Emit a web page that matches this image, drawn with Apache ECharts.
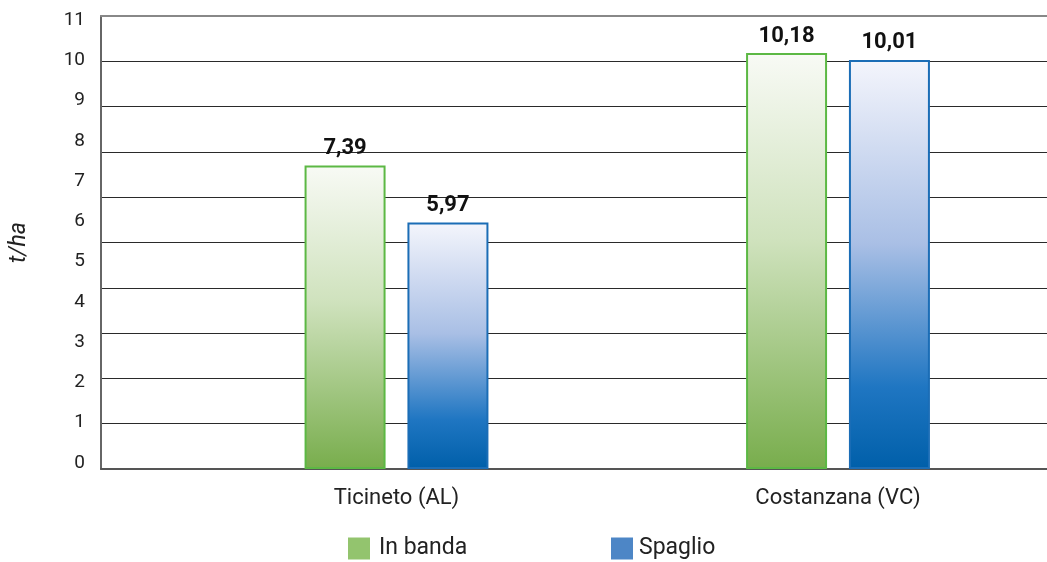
<!DOCTYPE html>
<html>
<head>
<meta charset="utf-8">
<style>html,body{margin:0;padding:0;background:#fff}#c{width:1047px;height:562px}</style>
<script src="https://cdn.jsdelivr.net/npm/echarts@6/dist/echarts.min.js"></script>
</head>
<body>
<div id="c"></div>
<script>
const categories = ['Ticineto (AL)', 'Costanzana (VC)'];
const seriesNames = ['In banda', 'Spaglio'];
const inBanda = [7.39, 10.18];
const spaglio = [5.97, 10.01];
const yTicks = [0, 1, 2, 3, 4, 5, 6, 7, 8, 9, 10, 11];
const yTitle = 't/ha';

const FONT = 'Roboto, "Noto Sans", sans-serif';
const chart = echarts.init(document.getElementById('c'), null, {renderer: 'canvas'});

function grad(stops) {
  return new echarts.graphic.LinearGradient(0, 0, 0, 1, stops.map(s => ({offset: s[0], color: s[1]})));
}
const fmt = p => p.value.toFixed(2).replace('.', ',');
const labelStyle = {show: true, position: 'top', distance: 6, fontFamily: FONT, fontWeight: 'bold', fontSize: 22, color: '#111', formatter: fmt};

chart.setOption({
  animation: false,
  grid: [
    {left: 97, top: 16, right: 0, height: 453},
    {left: 396.5, top: 16, width: 441.5, height: 453}
  ],
  xAxis: [
    {gridIndex: 0, type: 'category', data: categories, position: 'bottom',
     axisLine: {show: true, lineStyle: {color: '#555', width: 2}}, axisTick: {show: false}, axisLabel: {show: false}},
    {gridIndex: 0, type: 'category', data: categories, position: 'top',
     axisLine: {show: true, lineStyle: {color: '#888', width: 2}}, axisTick: {show: false}, axisLabel: {show: false}},
    {gridIndex: 1, type: 'category', data: categories, boundaryGap: false,
     axisLine: {show: false}, axisTick: {show: false},
     axisLabel: {margin: 18, fontFamily: FONT, fontSize: 22, color: '#222'}}
  ],
  yAxis: [
    {gridIndex: 0, type: 'value', min: 0, max: 10, interval: 1,
     name: yTitle, nameLocation: 'middle', nameGap: 70, nameRotate: 90,
     nameTextStyle: {fontFamily: FONT, fontStyle: 'italic', fontSize: 23, color: '#222'},
     axisLine: {show: true, lineStyle: {color: '#666', width: 2}}, axisTick: {show: false}, axisLabel: {show: false},
     splitLine: {show: true, lineStyle: {color: '#2a2a2a', width: 1}}},
    {gridIndex: 1, type: 'value', min: -0.15, max: 11.1, startValue: -0.15, offset: 299.5,
     axisLine: {show: false}, axisTick: {show: false}, splitLine: {show: false},
     axisLabel: {customValues: yTicks, margin: 12, fontFamily: FONT, fontSize: 19, color: '#222'}}
  ],
  legend: [
    {data: [seriesNames[0]], left: 348, top: 537, padding: 0, icon: 'rect', itemWidth: 22, itemHeight: 22, itemGap: 0,
     textStyle: {fontFamily: FONT, fontSize: 23, color: '#222', padding: [0, 0, 0, 4]},
     itemStyle: {color: '#93c46e', borderWidth: 0}},
    {data: [seriesNames[1]], left: 611, top: 537, padding: 0, icon: 'rect', itemWidth: 22, itemHeight: 22, itemGap: 0,
     textStyle: {fontFamily: FONT, fontSize: 23, color: '#222', padding: [0, 0, 0, 1]},
     itemStyle: {color: '#4d86c6', borderWidth: 0}}
  ],
  series: [
    {name: seriesNames[0], type: 'bar', xAxisIndex: 2, yAxisIndex: 1, data: inBanda, clip: false,
     barWidth: 81, barGap: '27%',
     itemStyle: {color: grad([[0, '#f8faf5'], [0.45, '#cfe2bd'], [1, '#78ad4c']]), borderColor: '#5cb844', borderWidth: 2},
     label: labelStyle},
    {name: seriesNames[1], type: 'bar', xAxisIndex: 2, yAxisIndex: 1, data: spaglio, clip: false,
     barWidth: 81, barGap: '27%',
     itemStyle: {color: grad([[0, '#f4f5fc'], [0.45, '#a9bfe5'], [0.8, '#1f76c2'], [1, '#005fa9']]), borderColor: '#1b6db6', borderWidth: 2},
     label: labelStyle}
  ]
});
</script>
</body>
</html>
